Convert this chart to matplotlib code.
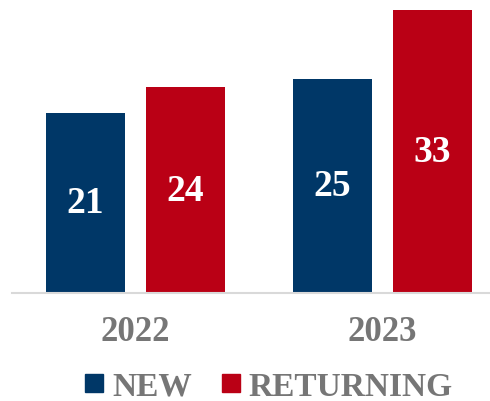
import numpy as np
import matplotlib
matplotlib.use("Agg")
import matplotlib.pyplot as plt
from matplotlib.lines import Line2D

years = ["2022", "2023"]
new_visitors = [21, 25]
returning_visitors = [24, 33]
series_names = ["NEW", "RETURNING"]

navy = "#003767"
red = "#BA0015"
gray = "#767676"

plt.rcParams["font.family"] = ["Liberation Serif", "DejaVu Serif"]
plt.rcParams["font.weight"] = "bold"

fig = plt.figure(figsize=(4.9, 4.02), dpi=100)
ax = fig.add_axes([12 / 490, 108 / 402, 494 / 490, 294 / 402])

x = np.arange(len(years))
w = 0.32
off = 0.2025
b1 = ax.bar(x - off, new_visitors, w, color=navy)
b2 = ax.bar(x + off, returning_visitors, w, color=red)

for bars in (b1, b2):
    for r in bars:
        h = r.get_height()
        ax.text(r.get_x() + r.get_width() / 2, h / 2, str(int(h)),
                ha="center", va="center", color="white",
                fontsize=27, fontweight="bold")

ax.set_xlim(-0.5, 1.5)
ax.set_ylim(0, 34.3)
ax.set_yticks([])
ax.set_xticks(x)
ax.set_xticklabels(years, fontsize=25, fontweight="bold", color=gray)
ax.tick_params(axis="x", length=0, pad=16)
for s in ["top", "right", "left"]:
    ax.spines[s].set_visible(False)
ax.spines["bottom"].set_color("#D9D9D9")
ax.spines["bottom"].set_linewidth(1.5)

handles = [Line2D([], [], marker="s", linestyle="none", markersize=12.5, color=c)
           for c in (navy, red)]
leg = fig.legend(handles, series_names, loc="center", ncol=2,
                 bbox_to_anchor=(0.543, 0.037), frameon=False,
                 handletextpad=0.1, columnspacing=0.7, handlelength=0.9,
                 prop={"size": 24, "weight": "bold"})
for t in leg.get_texts():
    t.set_color(gray)

fig.savefig("out.png", dpi=100)
